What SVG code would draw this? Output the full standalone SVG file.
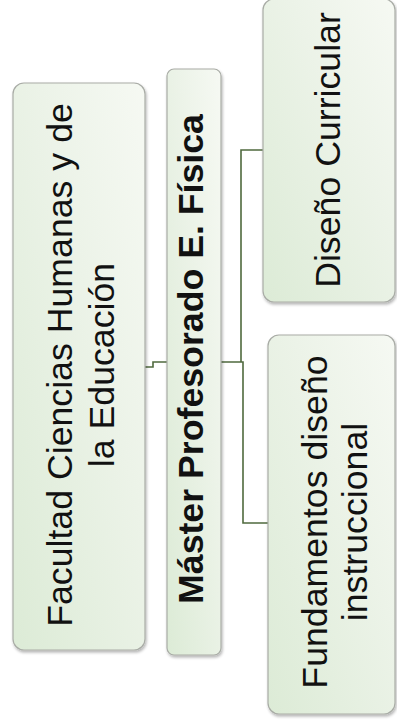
<svg xmlns="http://www.w3.org/2000/svg" width="397" height="725" viewBox="0 0 397 725">
<defs>
<linearGradient id="g" x1="0" y1="1" x2="1" y2="0">
<stop offset="0" stop-color="#dcebd6"/>
<stop offset="0.6" stop-color="#ecf3e8"/>
<stop offset="1" stop-color="#f6f9f3"/>
</linearGradient>
<filter id="sh" x="-10%" y="-10%" width="120%" height="120%">
<feGaussianBlur in="SourceAlpha" stdDeviation="1.5"/>
<feOffset dx="1" dy="1.5" result="b"/>
<feComponentTransfer><feFuncA type="linear" slope="0.3"/></feComponentTransfer>
<feMerge><feMergeNode/><feMergeNode in="SourceGraphic"/></feMerge>
</filter>
</defs>
<style>
.box{fill:url(#g);stroke:#a9aca6;stroke-width:1.2;filter:url(#sh)}
.t{font-family:"Liberation Sans",Arial,sans-serif;font-size:35.7px;fill:#111;text-anchor:middle}
.b{font-weight:bold}
.c{fill:none;stroke:#4f6a3e;stroke-width:1.6}
</style>
<rect width="397" height="725" fill="#ffffff"/>
<g id="connectors">
<path class="c" d="M145,367 H153 V362 H167"/>
<path class="c" d="M263,150 H241 V362 H221 M241,362 H243 V523 H268"/>
</g>
<g id="facultad">
<rect class="box" x="13" y="83" width="132" height="567" rx="11"/>
<text class="t" transform="translate(72,365) rotate(-90)">Facultad Ciencias Humanas y de</text>
<text class="t" transform="translate(114,365) rotate(-90)">la Educación</text>
</g>
<g id="master">
<rect class="box" x="167" y="69" width="54" height="586" rx="7"/>
<text class="t b" transform="translate(203,359) rotate(-90)">Máster Profesorado E. Física</text>
</g>
<g id="diseno">
<rect class="box" x="263" y="-1" width="132" height="303" rx="11"/>
<text class="t" transform="translate(340,150) rotate(-90)">Diseño Curricular</text>
</g>
<g id="fundamentos">
<rect class="box" x="268" y="335" width="127" height="379" rx="11"/>
<text class="t" transform="translate(327,522) rotate(-90)">Fundamentos diseño</text>
<text class="t" transform="translate(367,522) rotate(-90)">instruccional</text>
</g>
</svg>
